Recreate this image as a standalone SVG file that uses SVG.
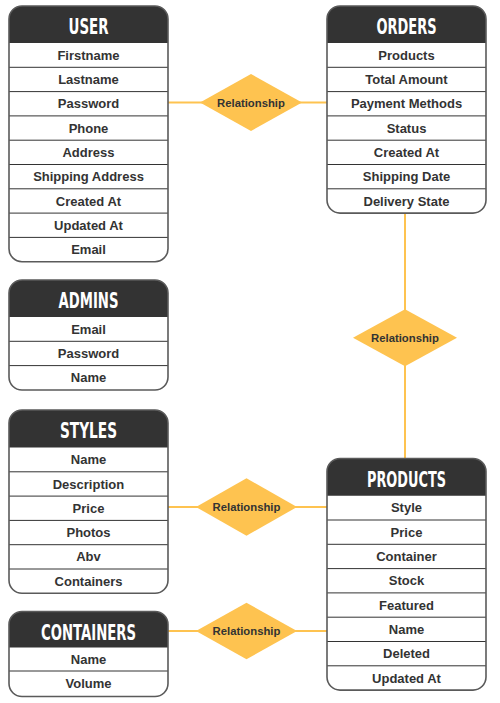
<svg xmlns="http://www.w3.org/2000/svg" width="500" height="703" viewBox="0 0 500 703">
<style>
.body{fill:#fff;stroke:none}
.hdr{fill:#333}
.outline{fill:none;stroke:#5a5a5a;stroke-width:1.6}
.sep{stroke:#333;stroke-width:1}
.title{font-family:"DejaVu Sans Condensed","DejaVu Sans",sans-serif;font-weight:bold;font-size:22px;fill:#fff;text-anchor:middle}
.attr{font-family:"Liberation Sans",Arial,sans-serif;font-weight:bold;font-size:13px;fill:#333;text-anchor:middle}
.conn{stroke:#FEC350;stroke-width:2;fill:none}
.dia{fill:#FEC350}
.rel{font-family:"Liberation Sans",Arial,sans-serif;font-weight:bold;font-size:11.3px;fill:#333;text-anchor:middle}
</style>
<g id="connectors">
<line class="conn" x1="168" y1="102.5" x2="327" y2="102.5"/>
<line class="conn" x1="405" y1="213" x2="405" y2="458.5"/>
<line class="conn" x1="168" y1="507" x2="327" y2="507"/>
<line class="conn" x1="168" y1="631" x2="327" y2="631"/>
</g>
<g id="rel-user-orders">
<polygon class="dia" points="200,102.5 251,74 302,102.5 251,131"/>
<text class="rel" x="251" y="106.5">Relationship</text>
</g>
<g id="rel-orders-products">
<polygon class="dia" points="353,337.7 405,309.2 457,337.7 405,366.2"/>
<text class="rel" x="405" y="341.7">Relationship</text>
</g>
<g id="rel-styles-products">
<polygon class="dia" points="196,507 246.5,478.3 297,507 246.5,535.7"/>
<text class="rel" x="246.5" y="511">Relationship</text>
</g>
<g id="rel-containers-products">
<polygon class="dia" points="196,631 246.5,602.7 297,631 246.5,659.3"/>
<text class="rel" x="246.5" y="635">Relationship</text>
</g>
<g id="user">
<rect class="body" x="9" y="6" width="159" height="255.7" rx="13"/>
<path class="hdr" d="M9,19 A13,13 0 0 1 22,6 H155 A13,13 0 0 1 168,19 V43 H9 Z"/>
<g class="sep">
<line x1="9" y1="67.3" x2="168" y2="67.3"/><line x1="9" y1="91.6" x2="168" y2="91.6"/><line x1="9" y1="115.9" x2="168" y2="115.9"/><line x1="9" y1="140.2" x2="168" y2="140.2"/><line x1="9" y1="164.5" x2="168" y2="164.5"/><line x1="9" y1="188.8" x2="168" y2="188.8"/><line x1="9" y1="213.1" x2="168" y2="213.1"/><line x1="9" y1="237.4" x2="168" y2="237.4"/>
</g>
<rect class="outline" x="9" y="6" width="159" height="255.7" rx="13"/>
<text class="title" x="88.5" y="34" textLength="40" lengthAdjust="spacingAndGlyphs">USER</text>
<text class="attr" x="88.5" y="59.7">Firstname</text>
<text class="attr" x="88.5" y="84">Lastname</text>
<text class="attr" x="88.5" y="108.3">Password</text>
<text class="attr" x="88.5" y="132.6">Phone</text>
<text class="attr" x="88.5" y="156.9">Address</text>
<text class="attr" x="88.5" y="181.2">Shipping Address</text>
<text class="attr" x="88.5" y="205.5">Created At</text>
<text class="attr" x="88.5" y="229.8">Updated At</text>
<text class="attr" x="88.5" y="254.1">Email</text>
</g>
<g id="admins">
<rect class="body" x="9" y="280" width="159" height="110" rx="13"/>
<path class="hdr" d="M9,293 A13,13 0 0 1 22,280 H155 A13,13 0 0 1 168,293 V317 H9 Z"/>
<g class="sep">
<line x1="9" y1="341.3" x2="168" y2="341.3"/><line x1="9" y1="365.6" x2="168" y2="365.6"/>
</g>
<rect class="outline" x="9" y="280" width="159" height="110" rx="13"/>
<text class="title" x="88.5" y="308" textLength="60" lengthAdjust="spacingAndGlyphs">ADMINS</text>
<text class="attr" x="88.5" y="333.7">Email</text>
<text class="attr" x="88.5" y="358">Password</text>
<text class="attr" x="88.5" y="382.3">Name</text>
</g>
<g id="styles">
<rect class="body" x="9" y="410" width="159" height="183.3" rx="13"/>
<path class="hdr" d="M9,423 A13,13 0 0 1 22,410 H155 A13,13 0 0 1 168,423 V447.5 H9 Z"/>
<g class="sep">
<line x1="9" y1="471.8" x2="168" y2="471.8"/><line x1="9" y1="496.1" x2="168" y2="496.1"/><line x1="9" y1="520.4" x2="168" y2="520.4"/><line x1="9" y1="544.7" x2="168" y2="544.7"/><line x1="9" y1="569" x2="168" y2="569"/>
</g>
<rect class="outline" x="9" y="410" width="159" height="183.3" rx="13"/>
<text class="title" x="88.5" y="438" textLength="57" lengthAdjust="spacingAndGlyphs">STYLES</text>
<text class="attr" x="88.5" y="464.2">Name</text>
<text class="attr" x="88.5" y="488.5">Description</text>
<text class="attr" x="88.5" y="512.8">Price</text>
<text class="attr" x="88.5" y="537.1">Photos</text>
<text class="attr" x="88.5" y="561.4">Abv</text>
<text class="attr" x="88.5" y="585.7">Containers</text>
</g>
<g id="containers">
<rect class="body" x="9" y="611.5" width="159" height="85" rx="13"/>
<path class="hdr" d="M9,624.5 A13,13 0 0 1 22,611.5 H155 A13,13 0 0 1 168,624.5 V647.5 H9 Z"/>
<g class="sep">
<line x1="9" y1="671" x2="168" y2="671"/>
</g>
<rect class="outline" x="9" y="611.5" width="159" height="85" rx="13"/>
<text class="title" x="88.5" y="639.5" textLength="95" lengthAdjust="spacingAndGlyphs">CONTAINERS</text>
<text class="attr" x="88.5" y="663.6">Name</text>
<text class="attr" x="88.5" y="687.9">Volume</text>
</g>
<g id="orders">
<rect class="body" x="327" y="6" width="159" height="207.1" rx="13"/>
<path class="hdr" d="M327,19 A13,13 0 0 1 340,6 H473 A13,13 0 0 1 486,19 V43 H327 Z"/>
<g class="sep">
<line x1="327" y1="67.3" x2="486" y2="67.3"/><line x1="327" y1="91.6" x2="486" y2="91.6"/><line x1="327" y1="115.9" x2="486" y2="115.9"/><line x1="327" y1="140.2" x2="486" y2="140.2"/><line x1="327" y1="164.5" x2="486" y2="164.5"/><line x1="327" y1="188.8" x2="486" y2="188.8"/>
</g>
<rect class="outline" x="327" y="6" width="159" height="207.1" rx="13"/>
<text class="title" x="406.5" y="34" textLength="60" lengthAdjust="spacingAndGlyphs">ORDERS</text>
<text class="attr" x="406.5" y="59.7">Products</text>
<text class="attr" x="406.5" y="84">Total Amount</text>
<text class="attr" x="406.5" y="108.3">Payment Methods</text>
<text class="attr" x="406.5" y="132.6">Status</text>
<text class="attr" x="406.5" y="156.9">Created At</text>
<text class="attr" x="406.5" y="181.2">Shipping Date</text>
<text class="attr" x="406.5" y="205.5">Delivery State</text>
</g>
<g id="products">
<rect class="body" x="327" y="458.5" width="159" height="231.6" rx="13"/>
<path class="hdr" d="M327,471.5 A13,13 0 0 1 340,458.5 H473 A13,13 0 0 1 486,471.5 V495.7 H327 Z"/>
<g class="sep">
<line x1="327" y1="520" x2="486" y2="520"/><line x1="327" y1="544.3" x2="486" y2="544.3"/><line x1="327" y1="568.6" x2="486" y2="568.6"/><line x1="327" y1="592.9" x2="486" y2="592.9"/><line x1="327" y1="617.2" x2="486" y2="617.2"/><line x1="327" y1="641.5" x2="486" y2="641.5"/><line x1="327" y1="665.8" x2="486" y2="665.8"/>
</g>
<rect class="outline" x="327" y="458.5" width="159" height="231.6" rx="13"/>
<text class="title" x="406.5" y="486.5" textLength="79" lengthAdjust="spacingAndGlyphs">PRODUCTS</text>
<text class="attr" x="406.5" y="512.4">Style</text>
<text class="attr" x="406.5" y="536.7">Price</text>
<text class="attr" x="406.5" y="561">Container</text>
<text class="attr" x="406.5" y="585.3">Stock</text>
<text class="attr" x="406.5" y="609.6">Featured</text>
<text class="attr" x="406.5" y="633.9">Name</text>
<text class="attr" x="406.5" y="658.2">Deleted</text>
<text class="attr" x="406.5" y="682.5">Updated At</text>
</g>
</svg>
